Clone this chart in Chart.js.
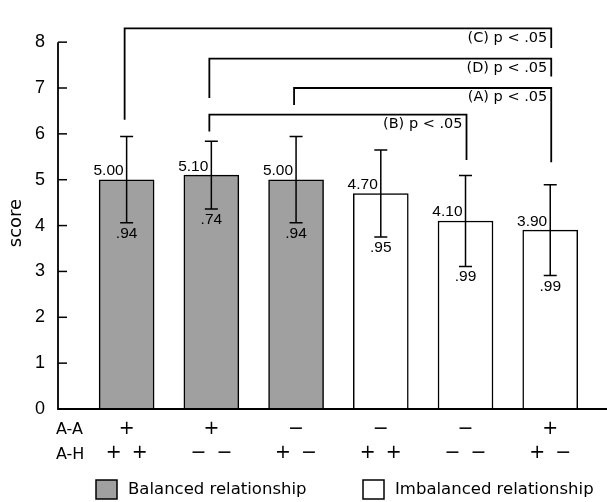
<!DOCTYPE html>
<html>
<head>
<meta charset="utf-8">
<script src="https://cdn.jsdelivr.net/npm/chart.js@4.4.1/dist/chart.umd.min.js"></script>
<style>
  body { margin: 0; background: #fff; }
  #wrap { width: 607px; height: 502px; }
</style>
</head>
<body>
<div id="wrap"><canvas id="scoreChart"></canvas></div>
<script>
// Scores per condition (A-A / A-H sign patterns)
const aaSigns = ['+', '+', '−', '−', '−', '+'];
const ahSigns = [['+', '+'], ['−', '−'], ['+', '−'], ['+', '+'], ['−', '−'], ['+', '−']];
const means = [5.00, 5.10, 5.00, 4.70, 4.10, 3.90];
const meanLabels = ['5.00', '5.10', '5.00', '4.70', '4.10', '3.90'];
const sds = [0.94, 0.74, 0.94, 0.95, 0.99, 0.99];
const sdLabels = ['.94', '.74', '.94', '.95', '.99', '.99'];
const groupOf = [0, 0, 0, 1, 1, 1];
const groupNames = ['Balanced relationship', 'Imbalanced relationship'];
const groupColors = ['#a0a0a0', '#ffffff'];
const yTicks = [0, 1, 2, 3, 4, 5, 6, 7, 8];

// significant comparisons (bar index from -> to)
const compLabels = ['(C) p < .05', '(D) p < .05', '(A) p < .05', '(B) p < .05'];
const compFrom = [0, 1, 2, 1];
const compTo = [5, 5, 5, 4];

function pointsFor(g) {
    const pts = [];
    means.forEach((m, i) => { if (groupOf[i] === g) pts.push({ x: i + 1, y: m }); });
    return pts;
}

// bracket geometry in score units: top line, left foot, right foot
const bracketY = [[8.30, 6.31, 7.87], [7.64, 6.78, 7.25], [7.00, 6.63, 5.38], [6.42, 6.05, 5.43]];

const annotate = {
    id: 'annotate',
    afterDatasetsDraw(chart) {
        const ctx = chart.ctx;
        const x = chart.scales.x, y = chart.scales.y;
        const area = chart.chartArea;
        ctx.save();
        ctx.strokeStyle = '#000';
        ctx.fillStyle = '#000';

        // axes
        ctx.lineWidth = 1.8;
        ctx.beginPath();
        ctx.moveTo(area.left, y.getPixelForValue(8));
        ctx.lineTo(area.left, y.getPixelForValue(0));
        ctx.lineTo(area.right, y.getPixelForValue(0));
        ctx.stroke();
        ctx.lineWidth = 1.5;
        yTicks.forEach(v => {
            const py = y.getPixelForValue(v);
            ctx.beginPath();
            ctx.moveTo(area.left, py);
            ctx.lineTo(area.left + 9, py);
            ctx.stroke();
        });

        // error bars and value labels
        means.forEach((m, i) => {
            const cx = x.getPixelForValue(i + 1);
            const top = y.getPixelForValue(m + sds[i]);
            const bot = y.getPixelForValue(m - sds[i]);
            ctx.lineWidth = 1.5;
            ctx.beginPath();
            ctx.moveTo(cx, top); ctx.lineTo(cx, bot);
            ctx.moveTo(cx - 6.5, top); ctx.lineTo(cx + 6.5, top);
            ctx.moveTo(cx - 6.5, bot); ctx.lineTo(cx + 6.5, bot);
            ctx.stroke();
            ctx.font = '15.5px "Liberation Sans", Arial, sans-serif';
            ctx.textAlign = 'right';
            ctx.textBaseline = 'alphabetic';
            ctx.fillText(meanLabels[i], cx - 3, y.getPixelForValue(m) - 4.5);
            ctx.textAlign = 'center';
            ctx.textBaseline = 'top';
            ctx.fillText(sdLabels[i], cx, bot + 3);
        });

        // comparison brackets
        compLabels.forEach((lab, k) => {
            const x1 = x.getPixelForValue(compFrom[k] + 1) - 2;
            const x2 = x.getPixelForValue(compTo[k] + 1) + 1;
            const [t, f1, f2] = bracketY[k];
            const pt = y.getPixelForValue(t);
            ctx.lineWidth = 1.8;
            ctx.beginPath();
            ctx.moveTo(x1, y.getPixelForValue(f1));
            ctx.lineTo(x1, pt);
            ctx.lineTo(x2, pt);
            ctx.lineTo(x2, y.getPixelForValue(f2));
            ctx.stroke();
            ctx.font = '14.5px "DejaVu Sans", sans-serif';
            ctx.textAlign = 'right';
            ctx.textBaseline = 'middle';
            ctx.fillText(lab, x2 - 4, pt + 9.5);
        });

        // condition rows under the axis
        const base = y.getPixelForValue(0);
        ctx.font = '16px "DejaVu Sans", sans-serif';
        ctx.textAlign = 'left';
        ctx.textBaseline = 'middle';
        ctx.fillText('A-A', area.left - 2, base + 21);
        ctx.fillText('A-H', area.left - 2, base + 46);
        ctx.font = '19px "DejaVu Sans", sans-serif';
        ctx.textAlign = 'center';
        aaSigns.forEach((s, i) => {
            const cx = x.getPixelForValue(i + 1);
            ctx.fillText(s, cx, base + 20);
            ctx.fillText(ahSigns[i][0], cx - 13, base + 44);
            ctx.fillText(ahSigns[i][1], cx + 13, base + 44);
        });

        // y title
        ctx.save();
        ctx.translate(16, 223);
        ctx.rotate(-Math.PI / 2);
        ctx.font = '18px "DejaVu Sans", sans-serif';
        ctx.textAlign = 'center';
        ctx.textBaseline = 'middle';
        ctx.fillText('score', 0, 0);
        ctx.restore();

        // legend
        const legX = [96, 363];
        ctx.font = '16.5px "DejaVu Sans", sans-serif';
        ctx.textAlign = 'left';
        ctx.textBaseline = 'middle';
        groupNames.forEach((name, g) => {
            ctx.fillStyle = groupColors[g];
            ctx.fillRect(legX[g], 480, 21, 19);
            ctx.lineWidth = 1.5;
            ctx.strokeRect(legX[g], 480, 21, 19);
            ctx.fillStyle = '#000';
            ctx.fillText(name, legX[g] + 32, 490);
        });
        ctx.restore();
    }
};

new Chart(document.getElementById('scoreChart'), {
    type: 'bar',
    data: {
        datasets: groupNames.map((name, g) => ({
            label: name,
            data: pointsFor(g),
            backgroundColor: groupColors[g],
            borderColor: '#000',
            borderWidth: 1.5,
            barThickness: 55
        }))
    },
    options: {
        responsive: true,
        maintainAspectRatio: false,
        animation: false,
        events: [],
        grouped: false,
        layout: { padding: { top: 3.4, bottom: 93, left: 0, right: 0 } },
        plugins: { legend: { display: false }, tooltip: { enabled: false } },
        scales: {
            x: { type: 'linear', min: 0.19, max: 6.67, offset: false, display: false },
            y: {
                min: 0,
                max: 8.4,
                grid: { display: false, drawTicks: false },
                border: { display: false },
                afterBuildTicks: s => { s.ticks = yTicks.map(v => ({ value: v })); },
                afterFit: s => { s.width = 58; },
                ticks: {
                    padding: 13,
                    color: '#000',
                    font: { family: '"Liberation Sans", Arial, sans-serif', size: 18 }
                }
            }
        }
    },
    plugins: [annotate]
});
</script>
</body>
</html>
